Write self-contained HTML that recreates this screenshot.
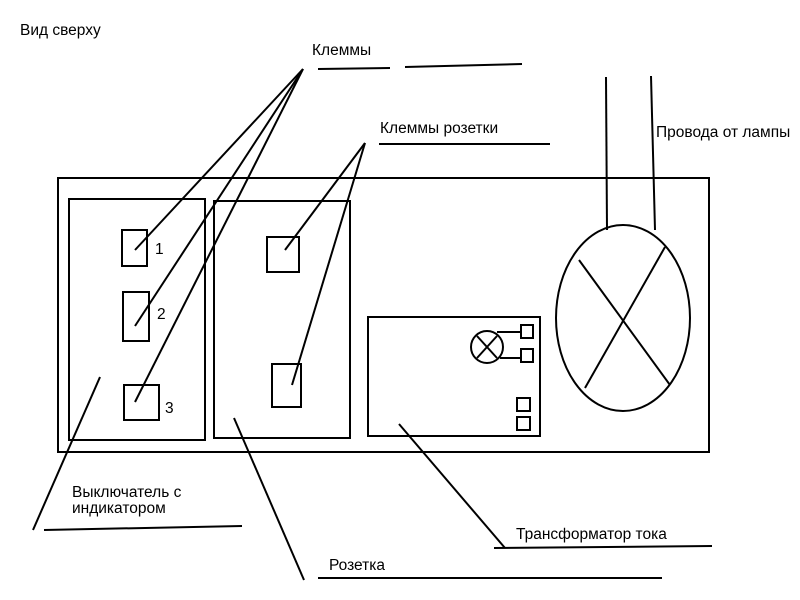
<!DOCTYPE html>
<html><head><meta charset="utf-8"><style>
html,body{margin:0;padding:0;background:#fff;}
svg{display:block;}
text{font-family:"Liberation Sans",sans-serif;font-size:15.5px;fill:#000;}
</style></head><body>
<svg width="800" height="600" viewBox="0 0 800 600" xmlns="http://www.w3.org/2000/svg">
<g fill="none" stroke="#000" stroke-width="2">
<rect x="58" y="178" width="651" height="274"/>
<rect x="69" y="199" width="136" height="241"/>
<rect x="214" y="201" width="136" height="237"/>
<rect x="368" y="317" width="172" height="119"/>
<ellipse cx="623" cy="318" rx="67" ry="93"/>
<rect x="122" y="230" width="25" height="36"/>
<rect x="123" y="292" width="26" height="49"/>
<rect x="124" y="385" width="35" height="35"/>
<rect x="267" y="237" width="32" height="35"/>
<rect x="272" y="364" width="29" height="43"/>
<circle cx="487" cy="347" r="16"/>
<rect x="521" y="325" width="12" height="13"/>
<rect x="521" y="349" width="12" height="13"/>
<rect x="517" y="398" width="13" height="13"/>
<rect x="517" y="417" width="13" height="13"/>
</g>
<g stroke="#000" stroke-width="2" fill="none">
<line x1="477" y1="336" x2="497" y2="358"/>
<line x1="497" y1="336" x2="477" y2="358"/>
<line x1="497" y1="332" x2="521" y2="332"/>
<line x1="500" y1="358" x2="521" y2="358"/>
<line x1="303" y1="69" x2="135" y2="250"/>
<line x1="303" y1="69" x2="135" y2="326"/>
<line x1="303" y1="69" x2="135" y2="402"/>
<line x1="365" y1="143" x2="285" y2="250"/>
<line x1="365" y1="143" x2="292" y2="385"/>
<line x1="606" y1="77" x2="607" y2="230"/>
<line x1="651" y1="76" x2="655" y2="230"/>
<line x1="579" y1="260" x2="670" y2="385"/>
<line x1="585" y1="388" x2="665" y2="247"/>
<line x1="100" y1="377" x2="33" y2="530"/>
<line x1="234" y1="418" x2="304" y2="580"/>
<line x1="399" y1="424" x2="505" y2="548"/>
<line x1="44" y1="530" x2="242" y2="526"/>
<line x1="318" y1="578" x2="662" y2="578"/>
<line x1="494" y1="548" x2="712" y2="546"/>
<line x1="379" y1="144" x2="550" y2="144"/>
<line x1="318" y1="69" x2="390" y2="68"/>
<line x1="405" y1="67" x2="522" y2="64"/>
</g>
<text x="20" y="35">Вид сверху</text>
<text x="312" y="55">Клеммы</text>
<text x="380" y="133">Клеммы розетки</text>
<text x="656" y="137">Провода от лампы</text>
<text x="72" y="497">Выключатель с</text>
<text x="72" y="513">индикатором</text>
<text x="516" y="539">Трансформатор тока</text>
<text x="329" y="570">Розетка</text>
<text x="155" y="254">1</text>
<text x="157" y="319">2</text>
<text x="165" y="413">3</text>
</svg>
</body></html>
